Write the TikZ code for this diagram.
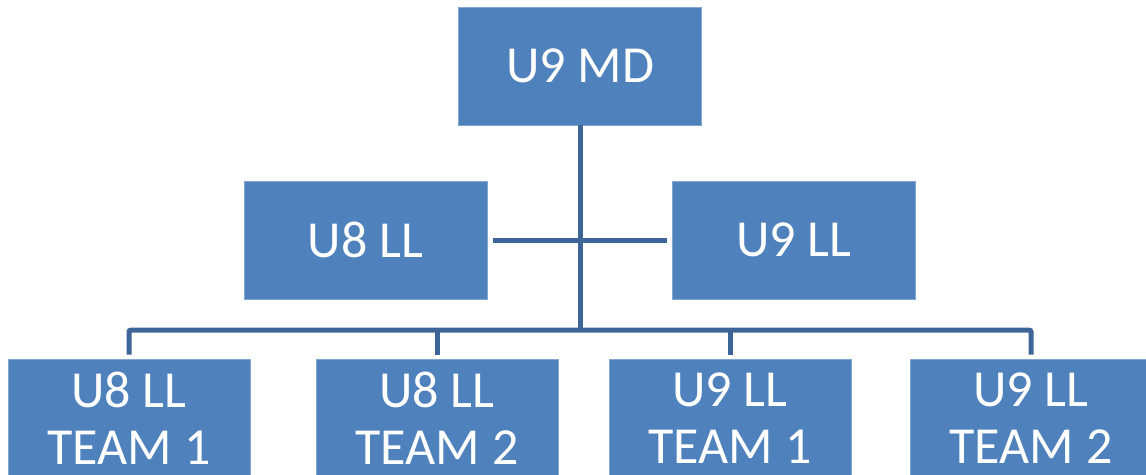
\documentclass[tikz,border=0pt]{standalone}
\usepackage{fontspec}
\setmainfont{Carlito}
\definecolor{boxblue}{HTML}{4F81BD}
\definecolor{lineblue}{HTML}{3D6597}
\begin{document}
\begin{tikzpicture}[x=1pt,y=-1pt,
  orgbox/.style={draw=boxblue!70!white, line width=0.8pt, fill=boxblue, text=white,
    minimum width=243pt, minimum height=118pt, inner sep=0pt, align=center,
    font=\fontsize{52}{57}\selectfont},
  conn/.style={draw=lineblue, line width=5pt}]
\useasboundingbox (0,0) rectangle (1146,474);
\node[orgbox] (md) at (580,66) {U9 MD};
\node[orgbox] (l8) at (365.5,240) {U8 LL};
\node[orgbox] (l9) at (794,240) {U9 LL};
\node[orgbox, minimum width=242pt] (t1) at (129,418) {U8 LL\\TEAM 1};
\node[orgbox, minimum width=242pt] (t2) at (437,418) {U8 LL\\TEAM 2};
\node[orgbox, minimum width=242pt] (t3) at (730,418) {U9 LL\\TEAM 1};
\node[orgbox, minimum width=242pt] (t4) at (1031,418) {U9 LL\\TEAM 2};
\coordinate (bar) at (580,330);
\draw[conn] (md.south) -- (bar);
\draw[conn, shorten <=6pt, shorten >=5pt] (l8.east) -- (l9.west);
\draw[conn, rounded corners=2pt, shorten <=4pt, shorten >=4pt]
  (t1.north) -- (t1.north |- bar) -- (t4.north |- bar) -- (t4.north);
\draw[conn, shorten >=4pt] (t2.north |- bar) -- (t2.north);
\draw[conn, shorten >=4pt] (t3.north |- bar) -- (t3.north);
\end{tikzpicture}
\end{document}
